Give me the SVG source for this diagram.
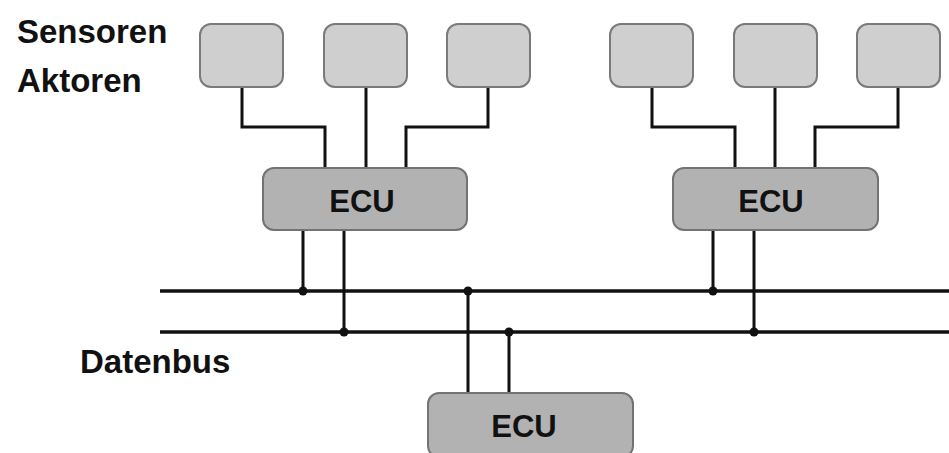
<svg xmlns="http://www.w3.org/2000/svg" width="949" height="453" viewBox="0 0 949 453">
<style>
.sa{fill:#cfcfcf;stroke:#7a7a7a;stroke-width:2}
.ecu{fill:#b2b2b2;stroke:#737373;stroke-width:2}
.lbl{font-family:"Liberation Sans",Arial,sans-serif;font-weight:bold;font-size:33px;fill:#111}
.et{font-family:"Liberation Sans",Arial,sans-serif;font-weight:bold;font-size:31px;fill:#111;text-anchor:middle}
.w{fill:none;stroke:#111;stroke-width:3}
.bus{fill:none;stroke:#111;stroke-width:3.5}
.dot{fill:#111}
</style>
<rect width="949" height="453" fill="#fff"/>
<text class="lbl" x="17" y="43">Sensoren</text>
<text class="lbl" x="17" y="92">Aktoren</text>
<text class="lbl" x="80" y="373">Datenbus</text>
<g id="connectors">
<path class="w" d="M242 87V127H325V168"/>
<path class="w" d="M366 87V168"/>
<path class="w" d="M488 87V127H406V168"/>
<path class="w" d="M652 87V127H735V168"/>
<path class="w" d="M775 87V168"/>
<path class="w" d="M898 87V127H815V168"/>
<path class="bus" d="M160 291H949"/>
<path class="bus" d="M160 332H949"/>
<path class="w" d="M303 230V291"/>
<path class="w" d="M344 230V332"/>
<path class="w" d="M713 230V291"/>
<path class="w" d="M754 230V332"/>
<path class="w" d="M468 291V393"/>
<path class="w" d="M509 332V393"/>
<circle class="dot" cx="303" cy="291" r="4.5"/>
<circle class="dot" cx="344" cy="332" r="4.5"/>
<circle class="dot" cx="713" cy="291" r="4.5"/>
<circle class="dot" cx="754" cy="332" r="4.5"/>
<circle class="dot" cx="468" cy="291" r="4.5"/>
<circle class="dot" cx="509" cy="332" r="4.5"/>
</g>
<g id="sa1"><rect class="sa" x="200" y="24" width="83" height="63" rx="11"/></g>
<g id="sa2"><rect class="sa" x="324" y="24" width="83" height="63" rx="11"/></g>
<g id="sa3"><rect class="sa" x="447" y="24" width="83" height="63" rx="11"/></g>
<g id="sa4"><rect class="sa" x="610" y="24" width="83" height="63" rx="11"/></g>
<g id="sa5"><rect class="sa" x="734" y="24" width="83" height="63" rx="11"/></g>
<g id="sa6"><rect class="sa" x="857" y="24" width="83" height="63" rx="11"/></g>
<g id="ecu1"><rect class="ecu" x="263" y="168" width="204" height="62" rx="11"/><text class="et" x="362" y="212">ECU</text></g>
<g id="ecu2"><rect class="ecu" x="673" y="168" width="205" height="62" rx="11"/><text class="et" x="771" y="212">ECU</text></g>
<g id="ecu3"><rect class="ecu" x="428" y="393" width="205" height="64" rx="11"/><text class="et" x="524" y="437">ECU</text></g>
</svg>
